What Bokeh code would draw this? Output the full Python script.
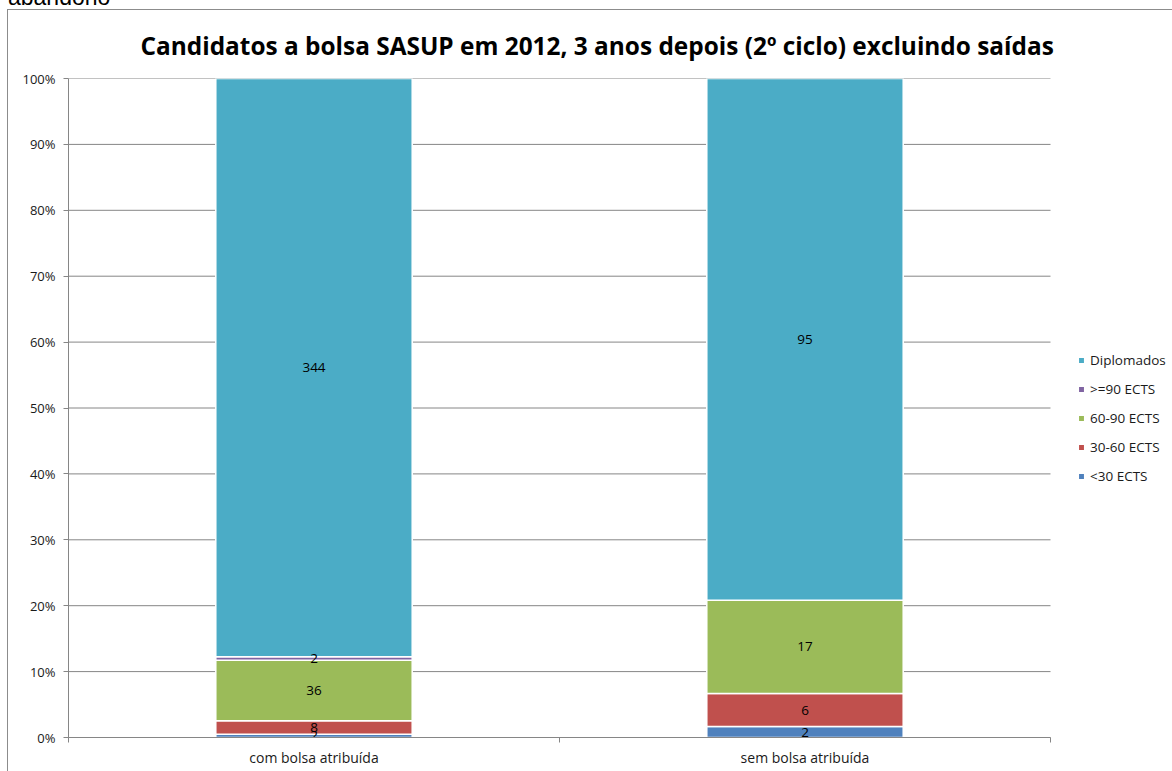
from bokeh.plotting import figure
from bokeh.layouts import column
from bokeh.models import (ColumnDataSource, Legend, LegendItem, NumeralTickFormatter,
                          FixedTicker, Title, Range1d, Div)
from bokeh.core.properties import value
from bokeh.embed import file_html
from bokeh.resources import INLINE

# ---- data ----
categories = ["com bolsa atribuída", "sem bolsa atribuída"]
series_names = ["<30 ECTS", "30-60 ECTS", "60-90 ECTS", ">=90 ECTS", "Diplomados"]
lt30 = [2, 2]
ects_30_60 = [8, 6]
ects_60_90 = [36, 17]
ge90 = [2, 0]
diplomados = [344, 95]
series_colors = ["#4F81BD", "#C0504D", "#9BBB59", "#8064A2", "#4BACC6"]
y_tick_values = [0, 0.1, 0.2, 0.3, 0.4, 0.5, 0.6, 0.7, 0.8, 0.9, 1.0]
title_text = "Candidatos a bolsa SASUP em 2012, 3 anos depois (2º ciclo) excluindo saídas"
top_note = "abandono"

series_values = [lt30, ects_30_60, ects_60_90, ge90, diplomados]
totals = [sum(v[i] for v in series_values) for i in range(len(categories))]
ncat = len(categories)
xc = [i + 0.5 for i in range(ncat)]          # category centres on the x scale

FONT = "Open Sans"
GRID = "#868686"
TXT = "#1a1a1a"

# frame spans to the right edge of the canvas so the legend can sit beside the plot area
W, H = 1164, 761
LEFT, TOP, BOTTOM = 60, 68, 34
plot_px = 982                                   # width of the category area in pixels
x_end = ncat * (W - LEFT) / plot_px

p = figure(x_range=Range1d(0, x_end), y_range=Range1d(0, 1),
           width=W, height=H, output_backend="svg", toolbar_location=None,
           min_border_left=LEFT, min_border_right=0, min_border_top=TOP, min_border_bottom=BOTTOM)
p.margin = (0, 0, 0, 8)
p.styles = {"outline": "1px solid #8c8c8c"}
p.outline_line_color = None
p.background_fill_color = "white"
p.border_fill_color = "white"

p.title = Title(text=title_text, align="left", offset=72,
                text_font=FONT, text_font_size="24.4px", text_font_style="bold",
                text_color="#000000", standoff=33)

# horizontal gridlines limited to the category area
p.segment(x0=[0] * len(y_tick_values), x1=[ncat] * len(y_tick_values),
          y0=y_tick_values, y1=y_tick_values, line_color=GRID, line_width=1, level="underlay")

renderers = []
bottoms = [0.0] * ncat
lab_x, lab_y, lab_t = [], [], []
for name, vals, col in zip(series_names, series_values, series_colors):
    fr = [v / t for v, t in zip(vals, totals)]
    tops = [b + f for b, f in zip(bottoms, fr)]
    src = ColumnDataSource(dict(x=xc, bottom=bottoms, top=tops))
    r = p.vbar(x="x", bottom="bottom", top="top", width=0.4, source=src,
               fill_color=col, line_color="white", line_width=1.5)
    renderers.append((name, r))
    for c, b, t, v in zip(xc, bottoms, tops, vals):
        if v > 0:
            lab_x.append(c)
            lab_y.append((b + t) / 2)
            lab_t.append(str(v))
    bottoms = tops

lsrc = ColumnDataSource(dict(x=lab_x, y=lab_y, t=lab_t))
p.text(x="x", y="y", text="t", source=lsrc, text_align="center", text_baseline="middle",
       text_font=value(FONT), text_font_size="13.5px", text_color="#000000")

# axes
p.yaxis.ticker = FixedTicker(ticks=y_tick_values)
p.yaxis.formatter = NumeralTickFormatter(format="0%")
p.xaxis.ticker = FixedTicker(ticks=xc, minor_ticks=list(range(ncat + 1)))
p.xaxis.major_label_overrides = {c: lab for c, lab in zip(xc, categories)}
p.xaxis.bounds = (0, ncat)
for ax in (p.xaxis[0], p.yaxis[0]):
    ax.axis_line_color = GRID
    ax.major_tick_line_color = GRID
    ax.major_label_text_font = FONT
    ax.major_label_text_font_size = "13px"
    ax.major_label_text_color = TXT
p.yaxis.minor_tick_line_color = None
p.yaxis.major_tick_in = 0
p.yaxis.major_tick_out = 5
p.yaxis.major_label_standoff = 8
p.xaxis.major_tick_line_color = None
p.xaxis.major_tick_in = 0
p.xaxis.major_tick_out = 0
p.xaxis.minor_tick_line_color = GRID
p.xaxis.minor_tick_in = 0
p.xaxis.minor_tick_out = 5
p.xaxis.major_label_standoff = 5
p.xaxis.major_label_text_font_size = "14px"

p.xgrid.grid_line_color = None
p.ygrid.grid_line_color = None

legend = Legend(items=[LegendItem(label=n, renderers=[r]) for n, r in reversed(renderers)],
                location=(1009, 252), orientation="vertical",
                border_line_color=None, background_fill_alpha=0,
                glyph_width=8, glyph_height=8, label_standoff=5, spacing=11,
                padding=0, margin=0,
                label_text_font=FONT, label_text_font_size="13.5px", label_text_color=TXT)
p.add_layout(legend)

note = Div(text=('<div style="font-family:\'Liberation Sans\';font-size:23px;line-height:23px;'
                 'margin-top:-27px;margin-left:8px;white-space:nowrap;color:#000;'
                 'transform:translateY(-7px);">'
                 + top_note + '</div>'),
           width=200, height=10, margin=(0, 0, 0, 0))

layout = column(note, p, spacing=0)
open("out.html", "w").write(file_html(layout, INLINE))
